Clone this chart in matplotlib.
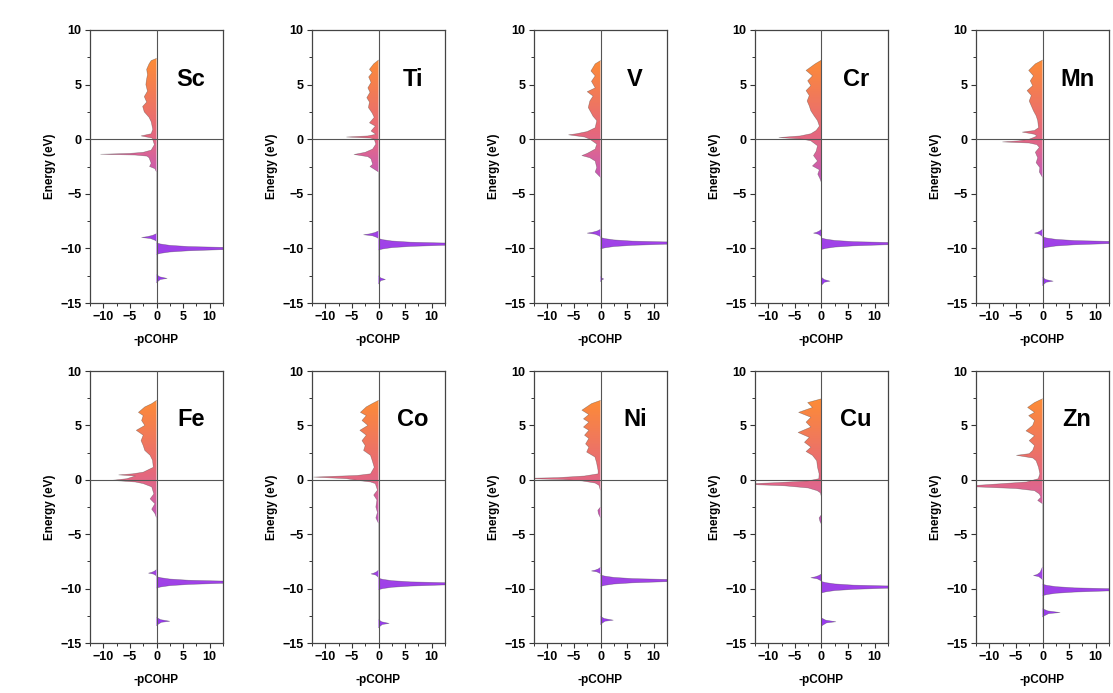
import numpy as np
import matplotlib
matplotlib.use("Agg")
import matplotlib.pyplot as plt
from matplotlib.colors import LinearSegmentedColormap
from matplotlib.patches import Polygon
from matplotlib.ticker import MultipleLocator

plt.rcParams['font.family'] = ['Liberation Sans', 'DejaVu Sans']
plt.rcParams['font.weight'] = 'bold'

elements = ["Sc", "Ti", "V", "Cr", "Mn", "Fe", "Co", "Ni", "Cu", "Zn"]

sc_e = [7.4, 7.2, 6.9, 6.4, 5.9, 5.4, 5.0, 4.4, 3.9, 3.4, 3.0, 2.5, 2.0, 1.6, 0.9, 0.5, 0.3, 0.1, -0.5,
        -1.0, -1.2, -1.3, -1.38, -1.45, -1.55, -1.7, -2.2, -2.5, -2.7, -3.0,
        -8.65, -8.8, -8.92, -9.0, -9.1, -9.25, -9.35,
        -9.5, -9.6, -9.72, -9.83, -9.9, -10.0, -10.12, -10.22, -10.33, -10.45, -10.55,
        -12.4, -12.6, -12.75, -12.85, -13.05, -13.15]
sc_v = [0, -1.0, -1.4, -1.85, -1.7, -1.9, -2.0, -1.7, -2.3, -1.85, -2.6, -2.3, -1.4, -1.0, -0.7, -1.0, -2.9, -0.8, -0.4,
        -1.0, -2.5, -5.0, -10.5, -4.0, -1.8, -1.4, -1.0, -1.3, -0.3, 0,
        0, -0.7, -1.7, -2.8, -1.1, -0.3, 0,
        0, 0.8, 2.5, 6, 12, 40, 12, 6, 2.5, 0.8, 0,
        0, 0.6, 2.0, 0.7, 0.2, 0]

ti_e = [7.25, 6.9, 6.4, 6.1, 5.7, 5.2, 4.7, 4.3, 3.8, 3.4, 2.9, 2.4, 2.0, 1.5, 1.2, 0.75, 0.45, 0.3, 0.2, 0.1, 0.0,
        -0.45, -0.9, -1.2, -1.4, -1.6, -1.8, -2.3, -2.5, -2.75, -3.0,
        -8.4, -8.55, -8.67, -8.75, -8.85, -9.0, -9.1,
        -9.1, -9.2, -9.32, -9.43, -9.5, -9.6, -9.72, -9.82, -9.93, -10.05, -10.15,
        -12.5, -12.7, -12.85, -12.95, -13.15, -13.25]
ti_v = [0, -0.9, -1.7, -1.2, -1.85, -1.4, -2.0, -1.6, -2.2, -1.7, -1.9, -1.2, -0.8, -1.7, -0.6, -1.4, -0.5, -2.0, -6.0, -1.5, -0.8,
        -0.5, -1.1, -2.5, -4.6, -2.0, -1.4, -1.1, -1.6, -0.8, 0,
        0, -0.7, -1.7, -2.8, -1.1, -0.3, 0,
        0, 0.8, 2.5, 6, 12, 40, 12, 6, 2.5, 0.8, 0,
        0, 0.4, 1.3, 0.45, 0.13, 0]

v_e = [7.2, 6.9, 6.25, 5.8, 5.3, 4.7, 4.35, 3.95, 3.5, 2.9, 2.1, 1.7, 1.05, 0.7, 0.5, 0.4, 0.2, 0.0,
       -0.45, -0.9, -1.3, -1.5, -1.7, -2.0, -2.6, -3.0, -3.5,
       -8.25, -8.4, -8.52, -8.6, -8.7, -8.85, -8.95,
       -9.0, -9.1, -9.22, -9.33, -9.4, -9.5, -9.62, -9.72, -9.83, -9.95, -10.05,
       -12.55, -12.7, -12.8, -12.9, -13.05]
v_v = [0, -1.0, -1.8, -1.0, -1.7, -1.0, -2.5, -1.4, -2.0, -2.3, -1.4, -0.7, -1.0, -2.5, -4.5, -6.0, -3.0, -2.0,
       -0.7, -1.0, -2.5, -3.5, -2.0, -1.0, -0.7, -1.0, 0,
       0, -0.6, -1.5, -2.5, -1.0, -0.25, 0,
       0, 0.8, 2.5, 6, 12, 40, 12, 6, 2.5, 0.8, 0,
       0, 0.2, 0.6, 0.2, 0]

cr_e = [7.25, 6.9, 6.3, 5.8, 5.35, 4.9, 4.45, 4.0, 3.5, 3.05, 2.6, 2.15, 1.7, 1.2, 0.8, 0.5, 0.3, 0.15, 0.0,
        -0.15, -0.6, -1.1, -1.5, -2.0, -2.45, -2.8, -3.2, -3.6, -4.0,
        -8.25, -8.4, -8.52, -8.6, -8.7, -8.85, -8.95,
        -9.05, -9.15, -9.27, -9.38, -9.45, -9.55, -9.67, -9.77, -9.88, -10.0, -10.1,
        -12.65, -12.85, -13.0, -13.1, -13.3, -13.4]
cr_v = [0, -1.2, -2.9, -1.7, -2.6, -2.0, -2.9, -2.3, -2.7, -2.3, -2.0, -1.4, -0.75, -0.4, -1.0, -2.0, -4.0, -8.0, -3.5,
        -2.0, -0.75, -1.0, -1.5, -0.75, -1.7, -0.4, -0.7, -0.3, 0,
        0, -0.4, -0.9, -1.5, -0.6, -0.15, 0,
        0, 0.8, 2.5, 6, 12, 40, 12, 6, 2.5, 0.8, 0,
        0, 0.5, 1.6, 0.55, 0.15, 0]

mn_e = [7.25, 6.9, 6.3, 5.8, 5.35, 4.9, 4.45, 4.0, 3.5, 3.05, 2.6, 2.15, 1.7, 1.05, 0.8, 0.65, 0.45, 0.3, 0.15, 0.0,
        -0.15, -0.25, -0.35, -0.5, -0.75, -1.2, -1.7, -2.15, -2.6, -3.0, -3.5,
        -8.25, -8.4, -8.52, -8.6, -8.7, -8.85, -8.95,
        -8.95, -9.05, -9.17, -9.28, -9.35, -9.45, -9.57, -9.67, -9.78, -9.9, -10.0,
        -12.65, -12.85, -13.0, -13.1, -13.3, -13.4]
mn_v = [0, -1.35, -2.6, -1.7, -2.3, -1.85, -2.9, -2.1, -2.5, -2.1, -1.7, -1.2, -0.9, -0.75, -1.5, -3.8, -1.5, -1.05, -1.7, -2.5,
        -4.5, -7.5, -2.5, -1.05, -0.6, -1.35, -0.9, -1.2, -0.5, -0.6, 0,
        0, -0.4, -0.9, -1.5, -0.6, -0.15, 0,
        0, 0.8, 2.5, 6, 12, 40, 12, 6, 2.5, 0.8, 0,
        0, 0.6, 2.0, 0.7, 0.2, 0]

fe_e = [7.3, 7.0, 6.7, 6.2, 5.9, 5.45, 5.0, 4.55, 4.1, 3.6, 3.15, 2.7, 2.25, 1.8, 1.15, 0.7, 0.55, 0.45, 0.35, 0.25, 0.1,
        -0.05, -0.2, -0.35, -0.65, -1.3, -1.75, -2.2, -2.7, -3.1, -3.5,
        -8.25, -8.4, -8.5, -8.58, -8.66, -8.78, -8.85,
        -8.9, -9.0, -9.12, -9.23, -9.3, -9.4, -9.52, -9.62, -9.73, -9.85, -9.95,
        -12.65, -12.85, -13.0, -13.1, -13.3, -13.4]
fe_v = [0, -0.9, -2.2, -3.4, -2.5, -2.8, -2.2, -3.8, -2.5, -2.9, -2.5, -2.2, -1.2, -0.75, -0.6, -2.5, -4.5, -7.1, -4.0, -4.6, -5.6,
        -8.3, -4.0, -2.5, -0.9, -0.5, -1.2, -0.3, -0.9, -0.3, 0,
        0, -0.4, -0.9, -1.5, -0.6, -0.15, 0,
        0, 0.8, 2.5, 6, 12, 40, 12, 6, 2.5, 0.8, 0,
        0, 0.75, 2.5, 0.9, 0.25, 0]

co_e = [7.3, 7.0, 6.7, 6.2, 5.9, 5.45, 5.0, 4.55, 4.1, 3.6, 3.15, 2.7, 2.25, 1.8, 1.15, 0.55, 0.4, 0.25, 0.1,
        -0.05, -0.2, -0.35, -0.95, -1.4, -1.85, -2.5, -3.0, -3.5, -4.0,
        -8.3, -8.45, -8.57, -8.65, -8.75, -8.9, -9.0,
        -9.05, -9.15, -9.27, -9.38, -9.45, -9.55, -9.67, -9.77, -9.88, -10.0, -10.1,
        -12.85, -13.05, -13.2, -13.3, -13.5, -13.6]
co_v = [0, -1.2, -2.3, -3.4, -2.3, -3.1, -2.0, -3.5, -2.3, -3.1, -2.5, -2.8, -1.5, -1.2, -0.8, -1.5, -4.0, -12.2, -6.0,
        -4.0, -1.5, -0.6, -0.2, -0.9, -0.3, -0.5, -0.2, -0.5, 0,
        0, -0.35, -0.85, -1.4, -0.55, -0.15, 0,
        0, 0.8, 2.5, 6, 12, 40, 12, 6, 2.5, 0.8, 0,
        0, 0.6, 2.0, 0.7, 0.2, 0]

ni_e = [7.3, 7.0, 6.4, 6.0, 5.6, 5.3, 4.85, 4.55, 4.1, 3.8, 3.3, 3.0, 2.55, 2.1, 1.6, 0.85, 0.55, 0.35, 0.2, 0.12, 0.02,
        -0.1, -0.3, -0.5, -1.0, -2.5, -2.8, -3.1, -3.5,
        -8.05, -8.2, -8.3, -8.38, -8.46, -8.58, -8.65,
        -8.75, -8.85, -8.97, -9.08, -9.15, -9.25, -9.37, -9.47, -9.58, -9.7, -9.8,
        -12.55, -12.75, -12.9, -13.0, -13.2, -13.3]
ni_v = [0, -1.7, -3.5, -2.2, -3.2, -2.2, -3.2, -2.2, -3.0, -2.2, -2.8, -2.2, -2.6, -1.05, -0.75, -0.45, -0.45, -3.0, -8.0, -15.0, -7.0,
        -3.5, -1.0, -0.3, 0, 0, -0.5, -0.4, 0,
        0, -0.45, -1.0, -1.7, -0.7, -0.17, 0,
        0, 0.8, 2.5, 6, 12, 40, 12, 6, 2.5, 0.8, 0,
        0, 0.7, 2.4, 0.85, 0.25, 0]

cu_e = [7.45, 7.1, 6.65, 6.2, 5.75, 5.3, 4.85, 4.35, 3.9, 3.45, 3.0, 2.6, 2.25, 1.75, 1.15, 0.55, 0.1,
        -0.1, -0.25, -0.4, -0.55, -0.75, -1.0, -1.2, -1.6, -3.2, -3.5, -3.8, -4.1,
        -8.65, -8.8, -8.92, -9.0, -9.1, -9.25, -9.35,
        -9.35, -9.45, -9.57, -9.68, -9.75, -9.85, -9.97, -10.07, -10.18, -10.3, -10.4,
        -12.7, -12.9, -13.05, -13.15, -13.35, -13.45]
cu_v = [0, -2.6, -1.7, -4.3, -2.0, -2.9, -2.0, -4.4, -2.3, -3.2, -2.0, -2.9, -1.7, -0.9, -0.75, -0.45, -0.5,
        -2.5, -8.0, -15.0, -7.0, -2.5, -0.8, -0.2, 0, 0, -0.45, -0.3, 0,
        0, -0.5, -1.2, -2.0, -0.8, -0.2, 0,
        0, 0.8, 2.5, 6, 12, 40, 12, 6, 2.5, 0.8, 0,
        0, 0.8, 2.7, 0.95, 0.27, 0]

zn_e = [7.45, 7.1, 6.65, 6.2, 5.9, 5.45, 5.0, 4.5, 4.05, 3.6, 3.15, 2.7, 2.4, 2.25, 2.0, 1.75, 1.15, 0.55, 0.1,
        -0.2, -0.4, -0.6, -0.8, -1.0, -1.3, -1.6, -1.9, -2.2,
        -8.0, -8.5, -8.7, -8.8, -8.9, -9.1, -9.2,
        -9.6, -9.7, -9.82, -9.93, -10.0, -10.1, -10.22, -10.32, -10.43, -10.55, -10.65,
        -11.85, -12.05, -12.2, -12.3, -12.5, -12.6]
zn_v = [0, -1.5, -2.8, -1.5, -2.6, -1.5, -1.85, -3.1, -1.5, -2.5, -1.5, -1.85, -2.5, -4.9, -1.8, -1.2, -0.75, -0.5, -0.8,
        -3.0, -9.0, -15.0, -5.0, -1.5, -0.6, -0.3, -0.9, 0,
        0, -0.45, -1.0, -1.7, -0.7, -0.17, 0,
        0, 0.8, 2.5, 6, 12, 40, 12, 6, 2.5, 0.8, 0,
        0, 1.0, 3.3, 1.15, 0.33, 0]

energies = [sc_e, ti_e, v_e, cr_e, mn_e, fe_e, co_e, ni_e, cu_e, zn_e]
values = [sc_v, ti_v, v_v, cr_v, mn_v, fe_v, co_v, ni_v, cu_v, zn_v]

cmap = LinearSegmentedColormap.from_list("cohp", [
    (0.0, "#9a3cf2"),
    (0.25, "#a244e4"),
    (0.45, "#c056c0"),
    (0.6, "#de6690"),
    (0.68, "#e6687a"),
    (0.8, "#ef7660"),
    (1.0, "#fd8c36"),
])
EMIN, EMAX = -15, 10

fig = plt.figure(figsize=(11.13, 6.93), dpi=100)
W, H = 1113, 693
lefts = [90, 312, 534, 755, 976]
aw = 133
rows = [(30, 303), (371, 643)]

grad = np.linspace(EMIN, EMAX, 400).reshape(-1, 1)

for i, name in enumerate(elements):
    r, c = divmod(i, 5)
    top, bot = rows[r]
    ax = fig.add_axes([lefts[c] / W, 1 - bot / H, aw / W, (bot - top) / H])
    E = np.array(energies[i], dtype=float)
    V = np.array(values[i], dtype=float)
    verts = np.column_stack([np.r_[0, V, 0], np.r_[E[0], E, E[-1]]])
    poly = Polygon(verts, closed=True, facecolor='none', edgecolor='none')
    ax.add_patch(poly)
    im = ax.imshow(grad, extent=[-12.5, 12.5, EMIN, EMAX], origin='lower', aspect='auto',
                   cmap=cmap, vmin=-13.5, vmax=7.5, zorder=1, interpolation='bilinear')
    im.set_clip_path(poly)
    ax.plot(V, E, color='#333333', lw=0.4, alpha=0.45, zorder=2)
    ax.axvline(0, color='#555555', lw=0.8, zorder=3)
    ax.axhline(0, color='#555555', lw=0.8, zorder=3)
    ax.set_xlim(-12.5, 12.5)
    ax.set_ylim(-15, 10)
    ax.xaxis.set_major_locator(MultipleLocator(5))
    ax.xaxis.set_minor_locator(MultipleLocator(2.5))
    ax.yaxis.set_major_locator(MultipleLocator(5))
    ax.yaxis.set_minor_locator(MultipleLocator(2.5))
    ax.tick_params(which='major', length=3.5, width=0.8, labelsize=9, direction='out', colors='#333333',
                   labelcolor='black', pad=2.5)
    ax.tick_params(which='minor', length=2, width=0.7, direction='out', colors='#333333')
    for lab in ax.get_xticklabels() + ax.get_yticklabels():
        lab.set_fontweight('bold')
    for sp in ax.spines.values():
        sp.set_color('#444444')
        sp.set_linewidth(0.9)
    ax.set_xlabel('-pCOHP', fontsize=8.5, fontweight='bold', labelpad=8)
    ax.set_ylabel('Energy (eV)', fontsize=8.5, fontweight='bold', labelpad=3)
    ax.text(6.5, 5.5, name, fontsize=17, fontweight='bold', ha='center', va='center', zorder=4)

fig.savefig("out.png", dpi=100)
